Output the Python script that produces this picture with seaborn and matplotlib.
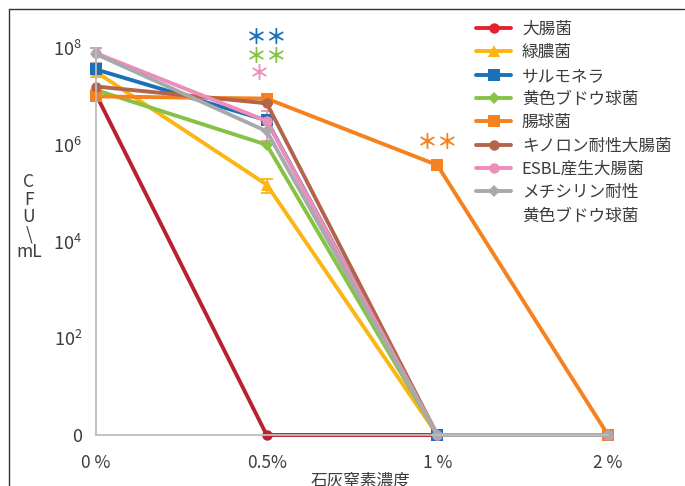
import numpy as np
import pandas as pd
import matplotlib
matplotlib.use("Agg")
import matplotlib.pyplot as plt
from matplotlib.lines import Line2D
import seaborn as sns

# Lime nitrogen concentration (x categories)
concentrations = ["0 %", "0.5%", "1 %", "2 %"]

# Bacterial counts (CFU/mL) per concentration
ecoli = [1.1e7, 0, 0, 0]
pseudomonas = [3.2e7, 1.5e5, 0, 0]
salmonella = [3.6e7, 3.2e6, 0, 0]
staph = [1.35e7, 1.0e6, 0, 0]
enterococcus = [1.0e7, 9.0e6, 3.8e5, 0]
quinolone_ecoli = [1.6e7, 7.2e6, 0, 0]
esbl_ecoli = [7.8e7, 3.1e6, 0, 0]
mrsa = [7.5e7, 1.9e6, 0, 0]

# Error bar half-widths (CFU/mL)
pseudomonas_err = [0, 5.0e4, 0, 0]
esbl_err = [0, 1.9e6, 0, 0]
mrsa_err = [2.5e7, 0, 0, 0]

series_names = ["大腸菌", "緑膿菌", "サルモネラ", "黄色ブドウ球菌", "腸球菌",
                "キノロン耐性大腸菌", "ESBL産生大腸菌", "メチシリン耐性黄色ブドウ球菌"]
series_values = [ecoli, pseudomonas, salmonella, staph, enterococcus,
                 quinolone_ecoli, esbl_ecoli, mrsa]

colors = {
    "大腸菌": "#B8222F",
    "緑膿菌": "#FBB514",
    "サルモネラ": "#1D70B8",
    "黄色ブドウ球菌": "#86C343",
    "腸球菌": "#F5821F",
    "キノロン耐性大腸菌": "#B2654A",
    "ESBL産生大腸菌": "#EE8CBA",
    "メチシリン耐性黄色ブドウ球菌": "#A8A9AD",
}
legend_colors = dict(colors)
legend_colors["大腸菌"] = "#E4222B"
markers = {
    "大腸菌": "o",
    "緑膿菌": "^",
    "サルモネラ": "s",
    "黄色ブドウ球菌": "D",
    "腸球菌": "s",
    "キノロン耐性大腸菌": "o",
    "ESBL産生大腸菌": "o",
    "メチシリン耐性黄色ブドウ球菌": "D",
}
marker_sizes = {"o": 7.5, "^": 8.0, "s": 8.5, "D": 6.5}

rows = []
for name, vals in zip(series_names, series_values):
    for i, v in enumerate(vals):
        rows.append({"pos": i, "cfu": v, "series": name})
df = pd.DataFrame(rows)

sns.set_theme(style="white")
plt.rcParams["font.family"] = ["Noto Sans CJK JP", "DejaVu Sans"]
plt.rcParams["mathtext.default"] = "regular"

text_color = "#3C3C3C"
axis_color = "#BDBDBD"

fig = plt.figure(figsize=(6.85, 4.86), dpi=100)
ax = fig.add_axes([96 / 685, 51 / 486, 512 / 685, 387 / 486])

ax.set_yscale("symlog", base=10, linthresh=10, linscale=0.9)

sns.lineplot(data=df, x="pos", y="cfu", hue="series", style="series",
             hue_order=series_names, style_order=series_names,
             palette=colors, markers=markers, dashes=False,
             linewidth=2.8, markeredgewidth=0, sort=False,
             legend=False, ax=ax, errorbar=None)

for line, name in zip(ax.lines, series_names):
    line.set_clip_on(False)
    line.set_markersize(marker_sizes[markers[name]])

# error bars
for name, vals, err in [("緑膿菌", pseudomonas, pseudomonas_err),
                        ("ESBL産生大腸菌", esbl_ecoli, esbl_err),
                        ("メチシリン耐性黄色ブドウ球菌", mrsa, mrsa_err)]:
    idx = [i for i, e in enumerate(err) if e > 0]
    ax.errorbar([i for i in idx], [vals[i] for i in idx],
                yerr=[err[i] for i in idx], fmt="none",
                ecolor=colors[name], elinewidth=1.3, capsize=4,
                capthick=1.3, clip_on=False, zorder=1)

ax.set_xlim(0, 3)
ax.set_ylim(0, 1e8)

ax.set_xticks(range(len(concentrations)))
ax.set_xticklabels(concentrations)
ytick_vals = [0, 10, 1e2, 1e3, 1e4, 1e5, 1e6, 1e7, 1e8]
ytick_labels = ["0", "", r"$10^{2}$", "", r"$10^{4}$", "", r"$10^{6}$", "", r"$10^{8}$"]
ax.set_yticks(ytick_vals)
ax.set_yticklabels(ytick_labels)
ax.yaxis.set_minor_locator(matplotlib.ticker.NullLocator())

ax.tick_params(axis="y", direction="in", length=7, width=1.1, color=axis_color,
               labelsize=13, labelcolor=text_color, pad=10)
ax.tick_params(axis="x", length=0, labelsize=12.5, labelcolor=text_color, pad=14)

for s in ["top", "right"]:
    ax.spines[s].set_visible(False)
for s in ["left", "bottom"]:
    ax.spines[s].set_color(axis_color)
    ax.spines[s].set_linewidth(1.3)
ax.set_xlabel("")
ax.set_ylabel("")
ax.set_facecolor("none")

fig.text(360 / 685, 1 - 481 / 486, "石灰窒素濃度", ha="center", va="center",
         fontsize=12, color=text_color)
fig.text(29 / 685, 1 - 217 / 486, "C\nF\nU\n\\\nmL", ha="center", va="center",
         fontsize=12.5, color=text_color, linespacing=0.95, multialignment="center")

# significance marks
star_kw = dict(transform=ax.get_xaxis_transform(), ha="center", va="center",
               fontsize=15, fontweight="bold", clip_on=False)
ax.text(1, 1.028, "＊＊", color=colors["サルモネラ"], **star_kw)
ax.text(1, 0.978, "＊＊", color=colors["黄色ブドウ球菌"], **star_kw)
ax.text(0.955, 0.934, "＊", color=colors["ESBL産生大腸菌"], **star_kw)
ax.text(2, 0.755, "＊＊", color=colors["腸球菌"], **star_kw)

# legend
handles = []
labels = []
for name in series_names:
    m = markers[name]
    handles.append(Line2D([0], [0], color=legend_colors[name], lw=2.8, marker=m,
                          markersize=marker_sizes[m], markeredgewidth=0))
    labels.append("メチシリン耐性" if name.startswith("メチシリン") else name)
handles.append(Line2D([0], [0], color="none"))
labels.append("黄色ブドウ球菌")
leg = fig.legend(handles, labels, loc="upper left",
                 bbox_to_anchor=(476 / 685, 1 - 21 / 486), frameon=False,
                 fontsize=12, handlelength=2.1, handletextpad=0.65,
                 labelspacing=0.38, borderaxespad=0, borderpad=0)
for t in leg.get_texts():
    t.set_color(text_color)

# outer frame
fig.add_artist(Line2D([9 / 685, 9 / 685], [0, 1 - 9 / 486], color="#333333",
                      lw=1.0, transform=fig.transFigure))
fig.add_artist(Line2D([9 / 685, 684 / 685], [1 - 9 / 486, 1 - 9 / 486],
                      color="#333333", lw=1.0, transform=fig.transFigure))

fig.savefig("out.png", dpi=100)
